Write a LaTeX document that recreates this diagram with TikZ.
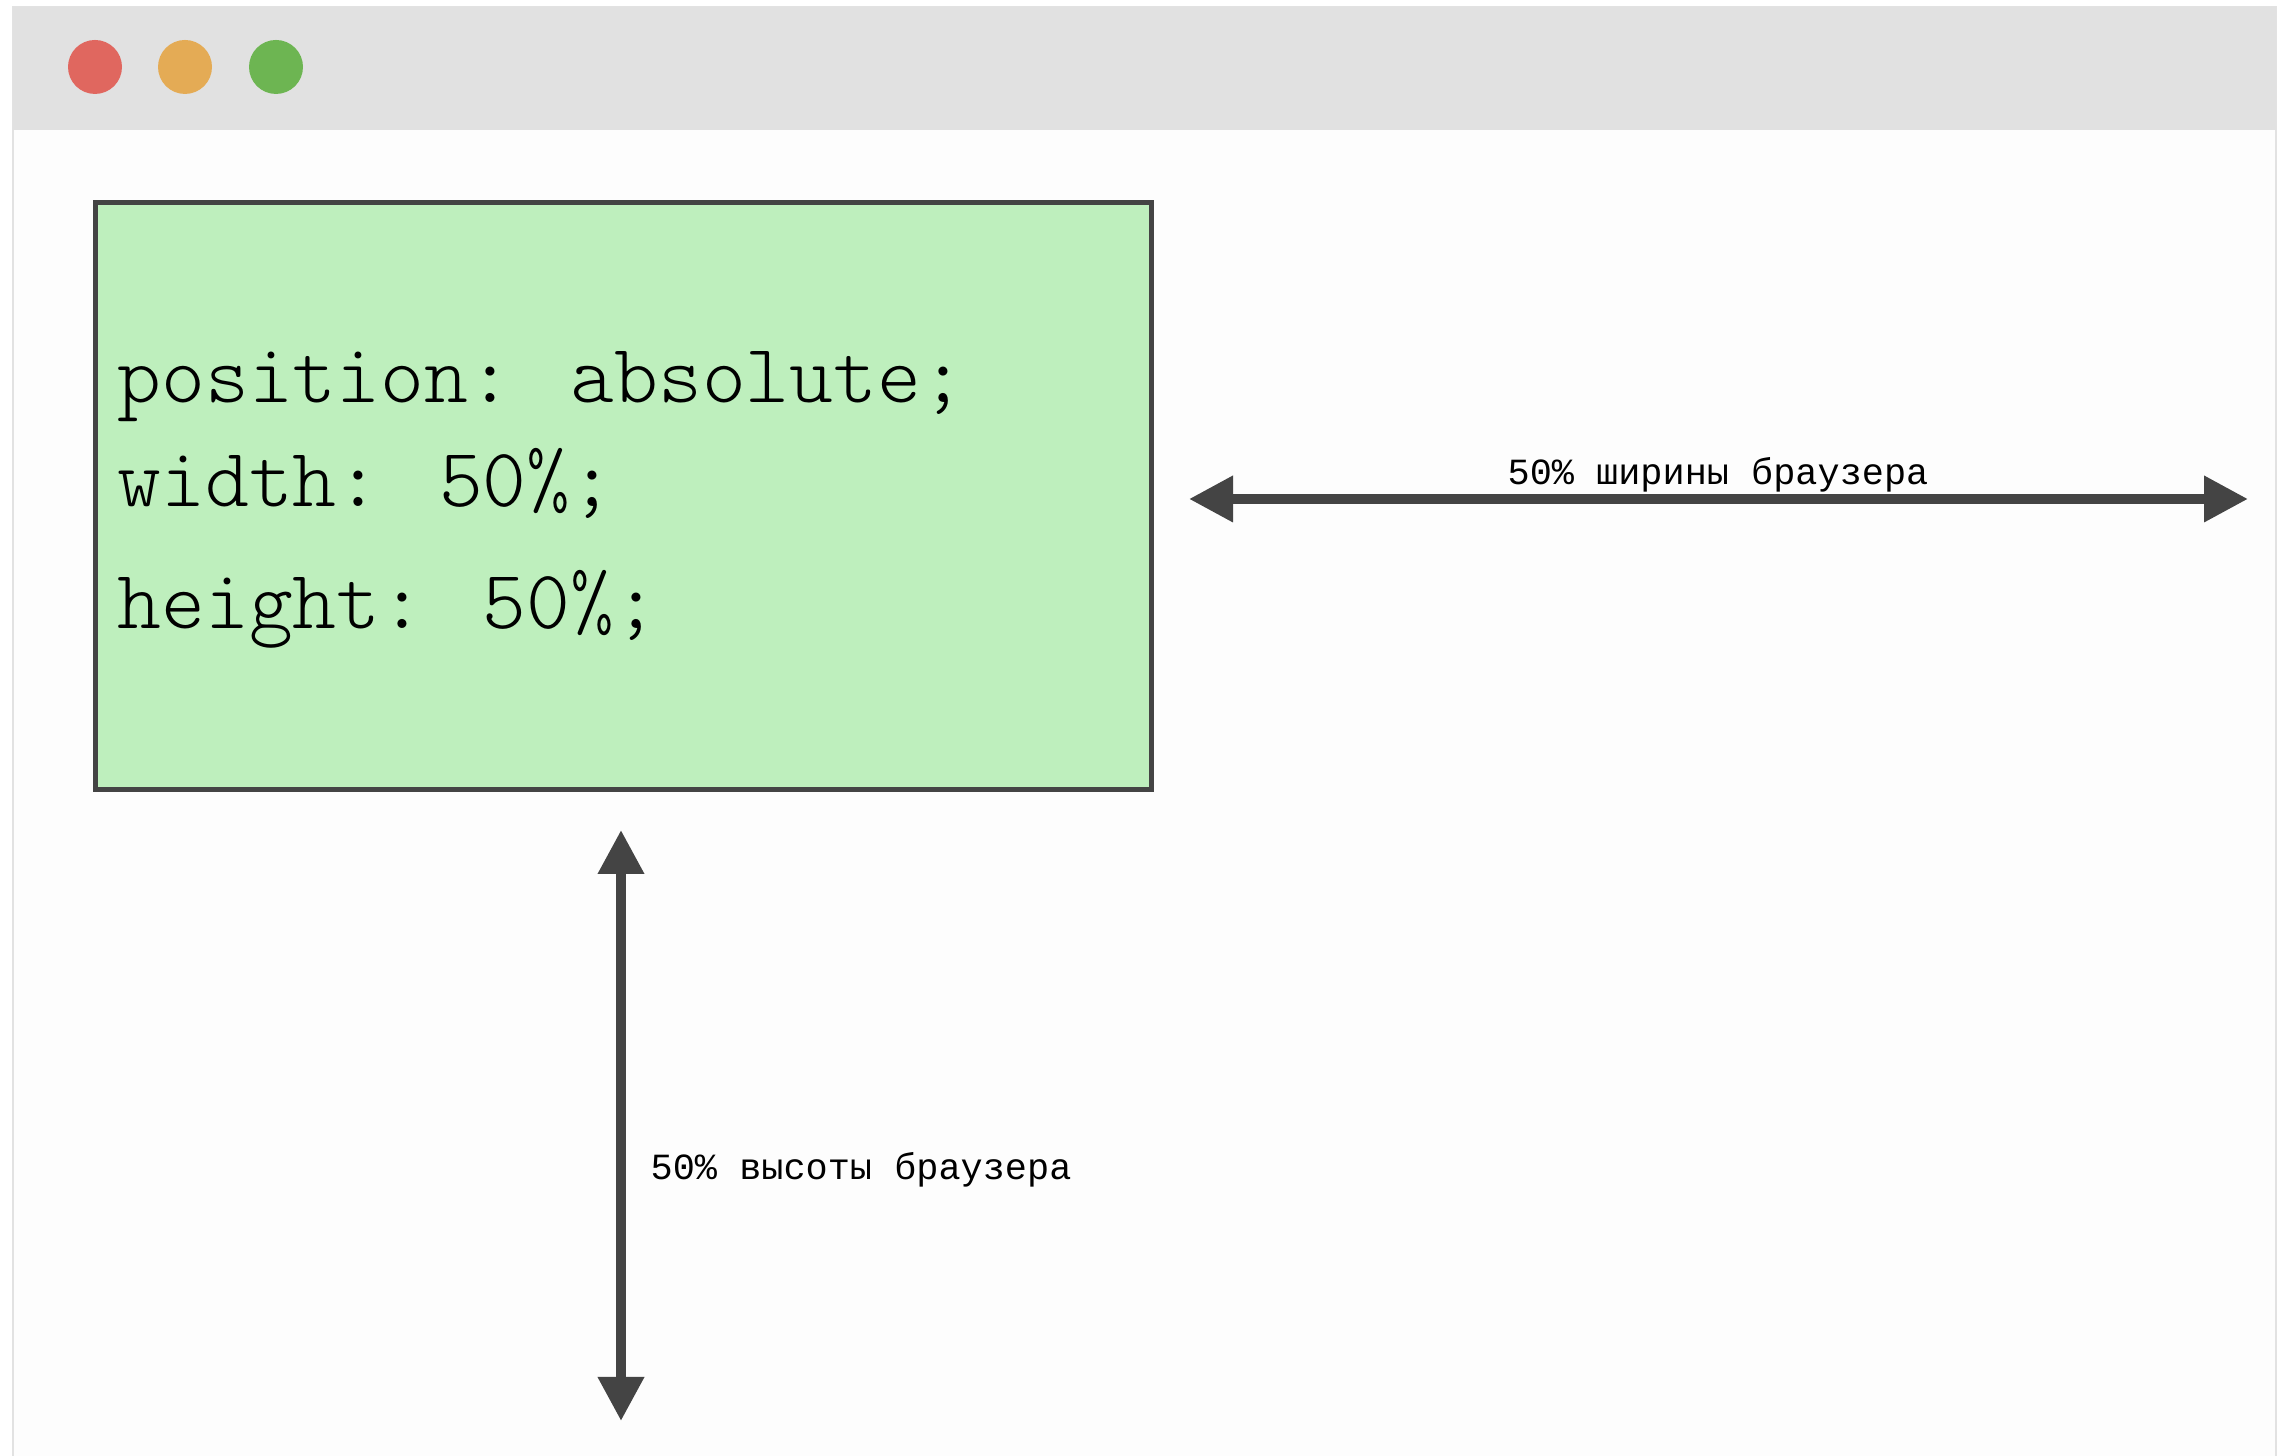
\documentclass[tikz,border=0pt]{standalone}
\usepackage{fontspec}
\newfontfamily\labelfont{Liberation Mono}
\newfontfamily\codefont{Latin Modern Mono Light}
\usepackage{xcolor}
\usepackage{tikz}
\usetikzlibrary{arrows.meta,positioning}

\definecolor{barGray}{HTML}{E1E1E1}
\definecolor{edgeGray}{HTML}{E2E2E2}
\definecolor{pageWhite}{HTML}{FDFDFD}
\definecolor{btnRed}{HTML}{E0675F}
\definecolor{btnAmber}{HTML}{E4AB55}
\definecolor{btnGreen}{HTML}{6DB552}
\definecolor{boxGreen}{HTML}{BEEFBD}
\definecolor{inkGray}{HTML}{444444}

\tikzset{
  winbtn/.style={circle,minimum size=0.54cm,inner sep=0pt},
  codeline/.style={anchor=base west,inner sep=0pt,font=\codefont\fontsize{23.75}{28}\selectfont},
  dimlabel/.style={inner sep=0pt,font=\labelfont\fontsize{10.5}{12}\selectfont},
  dimarrow/.style={{Triangle[length=0.44cm,width=0.44cm]}-{Triangle[length=0.44cm,width=0.44cm]},line width=0.1cm,inkGray}
}

\begin{document}
\begin{tikzpicture}[x=1cm,y=1cm]
  \useasboundingbox (0,0) rectangle (22.8,14.56);
  % window
  \fill[white] (0,0) rectangle (22.8,14.56);
  \draw[edgeGray,fill=pageWhite,line width=0.6pt] (0.13,-0.2) rectangle (22.76,14.49);
  \fill[barGray] (0.13,13.26) rectangle (22.76,14.49);
  \foreach \x/\c/\n in {0.95/btnRed/red,1.85/btnAmber/amber,2.76/btnGreen/green}
    \node[winbtn,fill=\c] (btn-\n) at (\x,13.89) {};
  % box
  \node[draw=inkGray,line width=1.3pt,fill=boxGreen,minimum width=10.56cm,minimum height=5.87cm,
        anchor=south west,inner sep=0pt] (box) at (0.93,6.64) {};
  \node[codeline] (posline) at (1.17,10.53) {position: absolute;};
  \node[codeline] (wline) at (1.17,9.49) {width: 50\%;};
  \node[codeline] (hline) at (1.17,8.27) {height: 50\%;};
  % width
  \coordinate (wleft) at (11.89,9.57);
  \coordinate (wright) at (22.48,9.57);
  \draw[dimarrow] (wleft) -- (wright);
  \node[dimlabel,anchor=base] (wlabel) at (17.18,9.71) {50\% ширины браузера};
  % height
  \coordinate (htop) at (6.21,6.26);
  \coordinate (hbot) at (6.21,0.35);
  \draw[dimarrow] (htop) -- (hbot);
  \node[dimlabel,anchor=base west] (hlabel) at (6.50,2.76) {50\% высоты браузера};
\end{tikzpicture}
\end{document}
